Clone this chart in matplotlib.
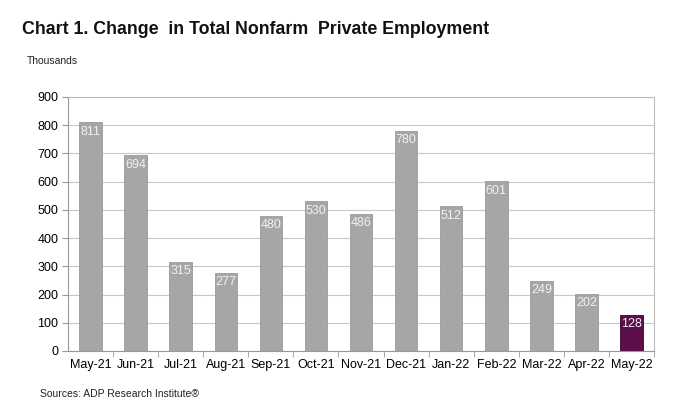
import matplotlib
matplotlib.use("Agg")
import matplotlib.pyplot as plt

months = ["May-21", "Jun-21", "Jul-21", "Aug-21", "Sep-21", "Oct-21", "Nov-21",
          "Dec-21", "Jan-22", "Feb-22", "Mar-22", "Apr-22", "May-22"]
change = [811, 694, 315, 277, 480, 530, 486, 780, 512, 601, 249, 202, 128]

plt.rcParams["font.family"] = ["Liberation Sans", "DejaVu Sans"]

fig = plt.figure(figsize=(6.96, 4.11), dpi=100)
ax = fig.add_axes([0.0977, 0.146, 0.842, 0.618])

colors = ["#a6a6a6"] * (len(change) - 1) + ["#5a0f4b"]
edges = ["#9a9a9a"] * (len(change) - 1) + ["#2e0526"]
x = range(len(months))
bars = ax.bar(x, change, width=0.5, color=colors, edgecolor=edges, linewidth=0.6, zorder=3)

for b, v in zip(bars, change):
    ax.text(b.get_x() + b.get_width() / 2, v - 12, str(v), ha="center", va="top",
            fontsize=9, color="#f2f2f2", zorder=4)

ax.set_xlim(-0.5, len(months) - 0.5)
ax.set_ylim(0, 900)
ax.set_yticks(range(0, 901, 100))
ax.set_xticks(list(x))
ax.set_xticklabels(months, fontsize=9)
ax.tick_params(axis="y", labelsize=9, length=4, color="#999999", pad=3)
ax.tick_params(axis="x", length=0, pad=6)
# tick marks between categories
ax.set_xticks([i - 0.5 for i in range(1, len(months) + 1)], minor=True)
ax.tick_params(axis="x", which="minor", length=4, color="#999999")
ax.grid(axis="y", color="#c8c8c8", linewidth=0.8, zorder=0)
for s in ax.spines.values():
    s.set_color("#bbbbbb")
    s.set_linewidth(0.8)
ax.spines["left"].set_color("#999999")
ax.spines["bottom"].set_color("#999999")

fig.text(0.032, 0.918, "Chart 1. Change  in Total Nonfarm  Private Employment",
         fontsize=12.8, fontweight="bold", color="#111111", va="baseline")
fig.text(0.039, 0.845, "Thousands", fontsize=7.5, color="#222222", va="baseline")
fig.text(0.058, 0.035, "Sources: ADP Research Institute\u00ae", fontsize=7.5,
         color="#222222", va="baseline")

fig.savefig("out.png", dpi=100)
